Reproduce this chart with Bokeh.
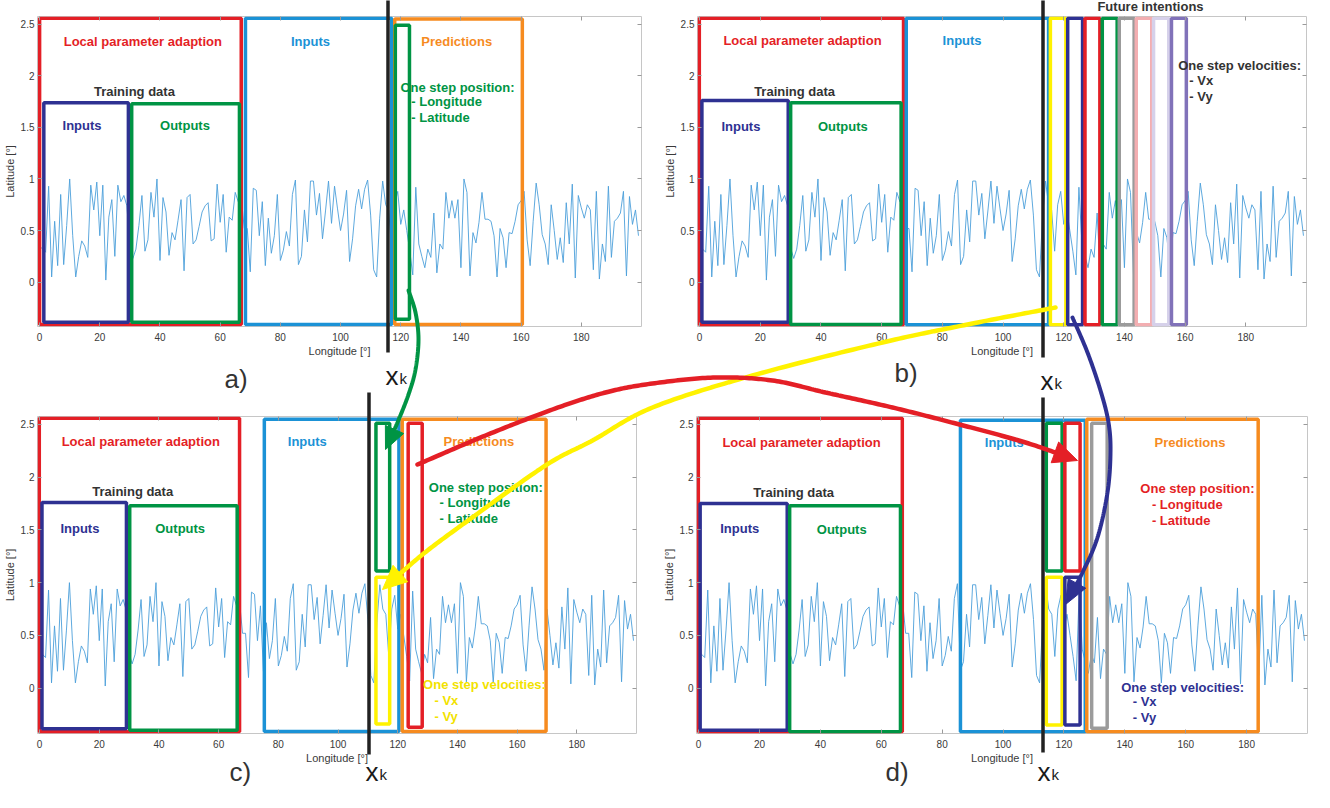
import numpy as np
from bokeh.plotting import figure
from bokeh.layouts import row, column
from bokeh.models import Range1d, FixedTicker, LinearAxis, NumeralTickFormatter, CustomJSTickFormatter
from bokeh.core.properties import value
from bokeh.embed import file_html
from bokeh.resources import INLINE

# ---------------- data ----------------
longitude = list(range(200))
latitude = [
    0.35, 0.32, 0.29, 0.93, 0.05, 0.59, 0.16, 0.85, 0.17, 0.55,
    1.00, 0.45, 0.05, 0.25, 0.40, 0.35, 0.24, 0.94, 0.70, 0.97,
    0.45, 0.94, 0.02, 0.63, 0.80, 0.25, 0.94, 0.78, 0.84, 0.74,
    0.33, 0.23, 0.32, 0.55, 0.84, 0.30, 0.41, 0.87, 0.63, 1.00,
    0.21, 0.82, 0.68, 0.26, 0.48, 0.41, 0.60, 0.80, 0.11, 0.82,
    0.85, 0.37, 0.41, 0.54, 0.68, 0.74, 0.77, 0.40, 0.42, 0.95,
    0.58, 0.85, 0.29, 0.63, 0.60, 0.87, 0.78, 0.82, 0.52, 0.52,
    0.10, 0.91, 0.89, 0.45, 0.78, 0.16, 0.62, 0.28, 0.45, 0.85,
    0.21, 0.31, 0.49, 0.35, 0.85, 0.99, 0.17, 0.25, 0.70, 0.39,
    0.98, 0.98, 0.65, 0.86, 0.42, 0.69, 0.98, 0.57, 0.93, 0.71,
    0.50, 0.66, 0.89, 0.20, 0.42, 0.74, 0.90, 0.71, 0.90, 0.99,
    0.65, 0.12, 0.05, 0.62, 0.98, 0.75, 0.70, 0.30, 0.75, 0.88,
    0.56, 0.70, 0.50, 0.30, 0.07, 0.92, 0.37, 0.25, 0.14, 0.32,
    0.24, 0.67, 0.09, 0.37, 0.32, 0.87, 0.62, 0.79, 0.62, 0.80,
    0.14, 1.00, 0.87, 0.06, 0.48, 0.38, 0.58, 0.87, 0.61, 0.61,
    0.59, 0.45, 0.05, 0.52, 0.43, 0.14, 0.48, 0.47, 0.59, 0.75,
    0.79, 0.88, 0.41, 0.16, 0.59, 0.96, 0.75, 0.46, 0.37, 0.17,
    0.75, 0.50, 0.22, 0.43, 0.19, 0.77, 0.37, 0.95, 0.04, 0.84,
    0.72, 0.62, 0.75, 0.70, 0.12, 0.88, 0.03, 0.37, 0.20, 0.93,
    0.24, 0.59, 0.62, 0.67, 0.88, 0.06, 0.83, 0.56, 0.70, 0.45,
]

x_ticks = [0, 20, 40, 60, 80, 100, 120, 140, 160, 180]
y_ticks = [0, 0.5, 1, 1.5, 2, 2.5]

RED = "#e41f26"; NAVY = "#2e3192"; GREEN = "#009444"; BLUE = "#1b92d6"
ORANGE = "#f68b1f"; YELLOW = "#fff200"; YTEXT = "#f2e200"; GREY = "#9b9b9b"
PINK = "#f3aeb1"; LAV = "#d6d1ea"; PURPLE = "#8172b9"; DARK = "#333333"

# boxes: (colour, x0, x1, y0, y1) in data coordinates
boxes_a = [(RED, 0, 67, -0.41, 2.56), (NAVY, 1.4, 29.5, -0.39, 1.74), (GREEN, 30.6, 66.4, -0.39, 1.73),
           (BLUE, 68.4, 117, -0.41, 2.56), (ORANGE, 118, 160.4, -0.41, 2.55), (GREEN, 118.2, 122.9, -0.36, 2.49)]
boxes_b = [(RED, -0.5, 67.2, -0.44, 2.57), (NAVY, 0.75, 29.2, -0.39, 1.76), (GREEN, 30, 66.4, -0.41, 1.74),
           (BLUE, 68.1, 115, -0.42, 2.56), (YELLOW, 115.6, 120.7, -0.43, 2.56), (NAVY, 121.3, 126.2, -0.43, 2.56),
           (RED, 127.0, 131.9, -0.43, 2.56), (GREEN, 132.7, 137.6, -0.43, 2.56), (GREY, 138.3, 143.2, -0.43, 2.56),
           (PINK, 143.9, 149.0, -0.43, 2.56), (LAV, 149.6, 154.6, -0.43, 2.56), (PURPLE, 155.5, 160.4, -0.43, 2.56)]
boxes_c = [(RED, -0.6, 67.0, -0.42, 2.56), (NAVY, 0.8, 29.1, -0.385, 1.76), (GREEN, 30.2, 66.2, -0.40, 1.73),
           (BLUE, 75.3, 120.4, -0.41, 2.55), (ORANGE, 121.5, 169.7, -0.41, 2.55), (GREEN, 112.7, 117.3, 1.11, 2.51),
           (YELLOW, 112.7, 117.3, -0.34, 1.05), (RED, 123.5, 128.2, -0.37, 2.51)]
boxes_d = [(RED, -0.5, 66.9, -0.43, 2.56), (NAVY, 0.5, 29.1, -0.40, 1.75), (GREEN, 29.9, 66.3, -0.42, 1.73),
           (BLUE, 86, 127, -0.42, 2.54), (ORANGE, 127.5, 183.8, -0.42, 2.55), (GREEN, 114.2, 119.4, 1.11, 2.51),
           (RED, 120.3, 125.3, 1.11, 2.51), (YELLOW, 114.2, 119.4, -0.35, 1.05), (NAVY, 120.3, 125.3, -0.35, 1.05),
           (GREY, 129.1, 134.2, -0.38, 2.51)]

# texts: (text, x, y, colour, align)
texts_a = [("Local parameter adaption", 34.3, 2.33, RED, "center"), ("Training data", 31.5, 1.85, DARK, "center"),
           ("Inputs", 14.1, 1.52, NAVY, "center"), ("Outputs", 48.3, 1.52, GREEN, "center"),
           ("Inputs", 90, 2.33, BLUE, "center"), ("Predictions", 138.6, 2.33, ORANGE, "center"),
           ("One step position:", 119.9, 1.89, GREEN, "left"), ("- Longitude", 123.5, 1.75, GREEN, "left"),
           ("- Latitude", 123.5, 1.60, GREEN, "left")]
texts_b = [("Local parameter adaption", 33.9, 2.34, RED, "center"), ("Training data", 31.3, 1.85, DARK, "center"),
           ("Inputs", 13.6, 1.51, NAVY, "center"), ("Outputs", 47.2, 1.51, GREEN, "center"),
           ("Inputs", 86.5, 2.34, BLUE, "center"), ("One step velocities:", 157.7, 2.10, DARK, "left"),
           ("- Vx", 161.4, 1.95, DARK, "left"), ("- Vy", 161.4, 1.80, DARK, "left")]
texts_c = [("Local parameter adaption", 33.9, 2.34, RED, "center"), ("Training data", 31.2, 1.86, DARK, "center"),
           ("Inputs", 13.5, 1.51, NAVY, "center"), ("Outputs", 47.1, 1.51, GREEN, "center"),
           ("Inputs", 89.7, 2.34, BLUE, "center"), ("Predictions", 147.2, 2.34, ORANGE, "center"),
           ("One step position:", 130.4, 1.90, GREEN, "left"), ("- Longitude", 134, 1.76, GREEN, "left"),
           ("- Latitude", 134, 1.61, GREEN, "left"), ("One step velocities:", 128.5, 0.03, YTEXT, "left"),
           ("- Vx", 132.3, -0.12, YTEXT, "left"), ("- Vy", 132.3, -0.27, YTEXT, "left")]
texts_d = [("Local parameter adaption", 33.8, 2.33, RED, "center"), ("Training data", 31.2, 1.85, DARK, "center"),
           ("Inputs", 13.5, 1.51, NAVY, "center"), ("Outputs", 47, 1.50, GREEN, "center"),
           ("Inputs", 100.4, 2.33, BLUE, "center"), ("Predictions", 161.4, 2.33, ORANGE, "center"),
           ("One step position:", 145.1, 1.89, RED, "left"), ("- Longitude", 148.9, 1.74, RED, "left"),
           ("- Latitude", 148.9, 1.59, RED, "left"), ("One step velocities:", 138.8, 0.01, NAVY, "left"),
           ("- Vx", 142.6, -0.13, NAVY, "left"), ("- Vy", 142.6, -0.28, NAVY, "left")]

# overlay annotations, window pixel coordinates
xk_lines = [(395.5, 5, 360), (1050.5, 7, 365), (376.5, 400, 762), (1050.5, 405, 760)]
xk_labels = [(393, 383), (1048, 388), (373, 779), (1045, 779)]
panel_tags = [("a)", 232, 386), ("b)", 902, 380), ("c)", 237, 779), ("d)", 893, 779)]
green_arrow = [(416, 298), (423, 320), (426, 347), (423, 377), (416, 402), (405, 430), (393, 457)]
yellow_arrow = [(1063, 315), (975, 332), (890, 350), (760, 383), (660, 415), (600, 448), (553, 473),
                (477, 527), (430, 562), (390, 597)]
red_arrow = [(425, 472), (493, 443), (560, 417), (613, 400), (660, 391), (723, 385), (780, 388), (833, 400),
             (900, 415), (967, 432), (1033, 450), (1085, 468)]
navy_arrow = [(1080, 325), (1095, 360), (1108, 398), (1116, 430), (1118, 460), (1115, 500), (1105, 545),
              (1090, 580), (1073, 612)]

FONT = "Liberation Sans"
X_RANGE = (-0.7, 200)
Y_RANGE = (-0.43, 2.575)


def make_panel(width, height, borders, boxes, texts):
    l, r, t, b = borders
    p = figure(width=width, height=height, x_range=Range1d(*X_RANGE), y_range=Range1d(*Y_RANGE),
               toolbar_location=None, output_backend="svg",
               min_border_left=l, min_border_right=r, min_border_top=t, min_border_bottom=b,
               x_axis_label="Longitude [°]", y_axis_label="Latitude [°]")
    p.grid.visible = False
    p.outline_line_color = "#c6c6c6"
    p.background_fill_color = "white"
    p.border_fill_color = "white"
    p.xaxis.ticker = FixedTicker(ticks=x_ticks)
    p.yaxis.ticker = FixedTicker(ticks=y_ticks)
    p.yaxis.formatter = NumeralTickFormatter(format="0.[0]")
    top = LinearAxis(ticker=FixedTicker(ticks=x_ticks), formatter=CustomJSTickFormatter(code="return ''"))
    right = LinearAxis(ticker=FixedTicker(ticks=y_ticks), formatter=CustomJSTickFormatter(code="return ''"))
    p.add_layout(top, "above")
    p.add_layout(right, "right")
    for ax in p.axis:
        ax.major_tick_in = 4
        ax.major_tick_out = 0
        ax.minor_tick_line_color = None
        ax.axis_line_color = None
        ax.major_tick_line_color = "#9a9a9a"
        ax.major_label_text_font = FONT
        ax.major_label_text_font_size = "10px"
        ax.major_label_text_color = "#3a3a3a"
        ax.axis_label_text_font = FONT
        ax.axis_label_text_font_size = "11px"
        ax.axis_label_text_font_style = "normal"
        ax.axis_label_text_color = "#3a3a3a"
    for ax in (top, right):
        ax.major_label_standoff = 0
        ax.major_label_text_font_size = "1px"
    p.below[0].major_label_standoff = 6
    p.below[0].axis_label_standoff = 1
    p.left[0].major_label_standoff = 3
    p.left[0].axis_label_standoff = 2

    p.line(longitude, latitude, line_color="#4c9fda", line_width=0.9)

    xpad, ypad = 0.6, 0.017
    for c, x0, x1, y0, y1 in boxes:
        p.quad(left=[max(x0, X_RANGE[0] + xpad)], right=[min(x1, X_RANGE[1] - xpad)],
               bottom=[max(y0, Y_RANGE[0] + ypad)], top=[min(y1, Y_RANGE[1] - ypad)],
               fill_color=None, line_color=c, line_width=3.5)
    for txt, x, y, c, al in texts:
        p.text(x=[x], y=[y], text=[txt], text_color=c, text_font=value(FONT), text_font_style="bold",
               text_font_size="13px", text_align=al, text_baseline="middle")
    return p


pa = make_panel(660, 398, (32, 19, 15, 72), boxes_a, texts_a)
pb = make_panel(650, 398, (32, 4, 16, 67), boxes_b, texts_b)
pc = make_panel(659, 388, (33, 23, 15, 50), boxes_c, texts_c)
pd = make_panel(651, 388, (32, 3, 18, 53), boxes_d, texts_d)

OV_W, OV_H = 1310, 786

# ---------------- overlay with cross-panel annotations ----------------
ov = figure(width=OV_W, height=OV_H, x_range=Range1d(8, 8 + OV_W), y_range=Range1d(8 + OV_H, 8),
            x_axis_type=None, y_axis_type=None, toolbar_location=None, output_backend="svg",
            min_border=0, background_fill_color=None, border_fill_color=None, outline_line_color=None)
ov.grid.visible = False


def catmull(pts, n=24):
    pts = np.array(pts, float)
    P = np.vstack([pts[0], pts, pts[-1]])
    out = []
    for i in range(1, len(P) - 2):
        p0, p1, p2, p3 = P[i - 1], P[i], P[i + 1], P[i + 2]
        for t in np.linspace(0, 1, n, endpoint=False):
            t2 = t * t
            t3 = t2 * t
            out.append(0.5 * (2 * p1 + (-p0 + p2) * t + (2 * p0 - 5 * p1 + 4 * p2 - p3) * t2
                              + (-p0 + 3 * p1 - 3 * p2 + p3) * t3))
    out.append(pts[-1])
    return np.array(out)


def arrow(pts, color, width, head_len, head_w):
    path = catmull(pts)
    tip = path[-1]
    dist = np.hypot(path[:, 0] - tip[0], path[:, 1] - tip[1])
    idx = np.where(dist >= head_len)[0][-1]
    d = tip - path[idx]
    d = d / np.hypot(*d)
    base = tip - head_len * d
    nrm = np.array([-d[1], d[0]])
    keep = path[dist > head_len * 0.8]
    line = np.vstack([keep, base])
    ov.line(line[:, 0], line[:, 1], line_color=color, line_width=width, line_cap="round")
    c1 = base + head_w * nrm
    c2 = base - head_w * nrm
    ov.patch([tip[0], c1[0], c2[0]], [tip[1], c1[1], c2[1]], fill_color=color, line_color=color, line_width=1)


for x, y0, y1 in xk_lines:
    ov.line([x, x], [y0, y1], line_color="#222222", line_width=3.5)

arrow(green_arrow, GREEN, 4, 22, 10)
arrow(yellow_arrow, YELLOW, 4.5, 24, 11)
arrow(red_arrow, RED, 4.5, 24, 11)
arrow(navy_arrow, NAVY, 4, 24, 10)

for x, y in xk_labels:
    ov.text(x=[x], y=[y], text=["x"], text_color="#1a1a1a", text_font=value(FONT), text_font_size="26px",
            text_align="left", text_baseline="alphabetic")
    ov.text(x=[x + 14], y=[y + 2.5], text=["k"], text_color="#1a1a1a", text_font=value(FONT),
            text_font_size="15px", text_align="left", text_baseline="alphabetic")

for t, x, y in panel_tags:
    ov.text(x=[x], y=[y], text=[t], text_color="#333333", text_font=value(FONT), text_font_size="26px",
            text_align="left", text_baseline="alphabetic")

ov.text(x=[1158], y=[14], text=["Future intentions"], text_color=DARK, text_font=value(FONT),
        text_font_style="bold", text_font_size="13px", text_align="center", text_baseline="middle")

ov.styles = {"position": "absolute", "left": "0px", "top": "0px", "z-index": "10", "pointer-events": "none"}

grid = column(row(pa, pb, spacing=0), row(pc, pd, spacing=0), spacing=0)
root = column(grid, ov, spacing=0, styles={"position": "relative"})

open("out.html", "w").write(file_html(root, INLINE))
